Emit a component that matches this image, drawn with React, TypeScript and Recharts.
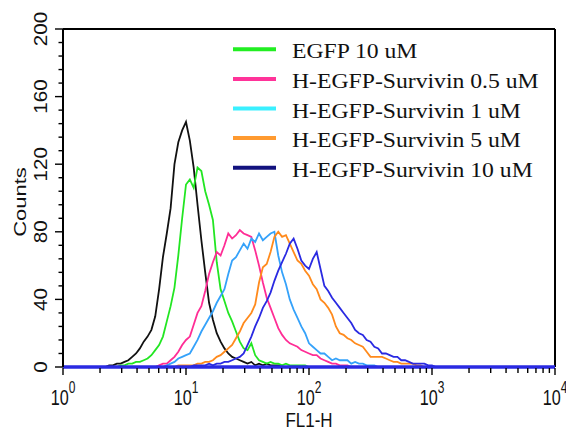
import { LineChart, Line, XAxis, YAxis, ReferenceLine } from "recharts";

// FL1-H histogram, 32 channels per decade over 10^0..10^4
const CHANNELS_PER_DECADE = 32;
const CHANNEL_COUNT = 129;

// counts per channel, starting at the given channel index (zero elsewhere)
const controlStart = 12;
const controlCounts = [1, 1, 2, 2, 3, 4, 6, 8, 11, 15, 18, 22, 30, 46, 65, 79, 94, 120, 133, 140, 145, 134, 118, 96, 75, 56, 38, 28, 20, 15, 11, 8, 6, 5, 4, 3, 2, 3, 1, 2, 1, 2, 1, 1, 1];

const egfpStart = 15;
const egfpCounts = [1, 1, 2, 2, 3, 3, 4, 5, 7, 10, 13, 18, 27, 36, 47, 66, 88, 108, 111, 106, 118, 116, 104, 96, 87, 62, 46, 39, 32, 27, 21, 15, 11, 10, 14, 7, 4, 3, 2, 3, 2, 2, 1, 2, 1, 1, 1, 1, 1];

const surv05Start = 25;
const surv05Counts = [1, 2, 2, 4, 6, 9, 13, 16, 18, 25, 32, 36, 45, 55, 62, 68, 66, 72, 79, 76, 78, 81, 79, 78, 77, 69, 60, 50, 41, 35, 29, 23, 19, 16, 14, 13, 12, 10, 9, 8, 7, 7, 5, 4, 3, 2, 2, 1, 1, 1];

const surv1Start = 27;
const surv1Counts = [1, 2, 3, 5, 6, 7, 8, 12, 16, 21, 25, 29, 33, 38, 42, 46, 55, 63, 65, 69, 73, 70, 76, 74, 79, 75, 77, 79, 80, 66, 56, 49, 40, 34, 29, 24, 20, 14, 12, 10, 8, 8, 6, 4, 5, 4, 4, 4, 2, 3, 2, 2, 1, 1, 1];

const surv5Start = 30;
const surv5Counts = [1, 1, 1, 1, 1, 2, 2, 3, 3, 4, 6, 7, 9, 11, 13, 17, 21, 26, 29, 32, 37, 50, 59, 61, 68, 77, 80, 77, 78, 73, 68, 63, 61, 57, 54, 49, 46, 40, 38, 35, 31, 24, 20, 19, 17, 16, 14, 13, 12, 9, 6, 6, 6, 6, 5, 4, 3, 3, 2, 2, 2, 2, 1, 1];

const surv10Start = 34;
const surv10Counts = [1, 1, 1, 1, 2, 1, 2, 2, 3, 3, 4, 5, 6, 8, 13, 18, 24, 29, 35, 39, 44, 51, 57, 62, 67, 73, 76, 70, 63, 60, 58, 64, 68, 58, 48, 45, 41, 38, 35, 32, 29, 26, 22, 20, 19, 16, 15, 12, 11, 8, 8, 7, 6, 6, 4, 4, 3, 2, 2, 2, 2, 1, 1];

const legendLabels = [
  "EGFP 10 uM",
  "H-EGFP-Survivin 0.5 uM",
  "H-EGFP-Survivin 1 uM",
  "H-EGFP-Survivin 5 uM",
  "H-EGFP-Survivin 10 uM",
];

const xTicks = [1, 2, 3, 4, 5, 6, 7, 8, 9, 10, 20, 30, 40, 50, 60, 70, 80, 90, 100, 200, 300, 400, 500, 600, 700, 800, 900, 1000, 2000, 3000, 4000, 5000, 6000, 7000, 8000, 9000, 10000];
const xLabels: Record<number, string> = { 1: "0", 10: "1", 100: "2", 1000: "3", 10000: "4" };
const yTicks = [0, 8, 16, 24, 32, 40, 48, 56, 64, 72, 80, 88, 96, 104, 112, 120, 128, 136, 144, 152, 160, 168, 176, 184, 192, 200];
const yLabels = [0, 40, 80, 120, 160, 200];

const SERIES = [
  { key: "control", start: controlStart, counts: controlCounts, stroke: "#111111" },
  { key: "egfp", start: egfpStart, counts: egfpCounts, stroke: "#22e622" },
  { key: "s05", start: surv05Start, counts: surv05Counts, stroke: "#ff2d95" },
  { key: "s1", start: surv1Start, counts: surv1Counts, stroke: "#35a2fa" },
  { key: "s5", start: surv5Start, counts: surv5Counts, stroke: "#ff8a1c" },
  { key: "s10", start: surv10Start, counts: surv10Counts, stroke: "#2a2ae2" },
];

const LEGEND_COLORS = ["#22ee22", "#ff3399", "#3af0ff", "#ff9a30", "#12127e"];

const rows = Array.from({ length: CHANNEL_COUNT }, (_, k) => {
  const row: Record<string, number> = { x: Math.pow(10, k / CHANNELS_PER_DECADE) };
  for (const s of SERIES) {
    const i = k - s.start;
    row[s.key] = i >= 0 && i < s.counts.length ? s.counts[i] : 0;
  }
  return row;
});

const SANS = "'Liberation Sans', Arial, sans-serif";
const SERIF = "'Liberation Serif', 'Times New Roman', serif";

function XTick(props: any) {
  const { x, y, payload } = props;
  const exp = xLabels[payload.value];
  const major = exp !== undefined;
  return (
    <g>
      <line x1={x} y1={y + 1} x2={x} y2={y + (major ? 8 : 6)} stroke="#000" strokeWidth={1.4} />
      {major && (
        <text
          transform={`translate(${x},${y + 37.5}) scale(1,1.32)`}
          textAnchor="middle"
          fontFamily={SANS}
          fontSize={16.2}
          fill="#111"
        >
          10
          <tspan fontSize={12} dy={-8.5}>
            {exp}
          </tspan>
        </text>
      )}
    </g>
  );
}

function YTick(props: any) {
  const { x, y, payload } = props;
  const major = yLabels.includes(payload.value);
  return (
    <g>
      <line x1={x} y1={y} x2={x - (major ? 8 : 4.5)} y2={y} stroke="#000" strokeWidth={1.4} />
      {major && (
        <text
          transform={`translate(${x - 16.5},${y}) scale(1,1.18) rotate(-90)`}
          textAnchor="middle"
          fontFamily={SANS}
          fontSize={17.5}
          fill="#111"
        >
          {payload.value}
        </text>
      )}
    </g>
  );
}

export default function App() {
  return (
    <div style={{ position: "absolute", left: 0, top: 0, width: 566, height: 432, background: "#fff" }}>
      <LineChart width={566} height={432} data={rows} margin={{ top: 29, right: 11, bottom: 0, left: 0 }}>
        <XAxis
          dataKey="x"
          type="number"
          scale="log"
          domain={[1, 10000]}
          ticks={xTicks}
          interval={0}
          tickSize={0}
          tickMargin={0}
          tickLine={false}
          tick={XTick}
          height={65}
          axisLine={{ stroke: "#2a2ae2", strokeWidth: 3.5 }}
        />
        <YAxis
          type="number"
          domain={[0, 200]}
          ticks={yTicks}
          interval={0}
          tickSize={0}
          tickMargin={0}
          tickLine={false}
          tick={YTick}
          width={63}
          axisLine={{ stroke: "#000", strokeWidth: 2 }}
        />
        <ReferenceLine y={200} stroke="#000" strokeWidth={2} />
        <ReferenceLine x={10000} stroke="#000" strokeWidth={2} />
        {SERIES.map((s) => (
          <Line
            key={s.key}
            dataKey={s.key}
            type="linear"
            stroke={s.stroke}
            strokeWidth={1.8}
            dot={false}
            activeDot={false}
            isAnimationActive={false}
          />
        ))}
      </LineChart>
      <svg
        width={566}
        height={432}
        style={{ position: "absolute", left: 0, top: 0, pointerEvents: "none" }}
      >
        <text
          transform="translate(25.5,202) scale(1,1.31) rotate(-90)"
          textAnchor="middle"
          fontFamily={SANS}
          fontSize={16.8}
          fill="#111"
        >
          Counts
        </text>
        <text
          transform="translate(309,427) scale(1,1.15)"
          textAnchor="middle"
          fontFamily={SANS}
          fontSize={17}
          fill="#111"
        >
          FL1-H
        </text>
        {legendLabels.map((label, i) => {
          const base = 58.3 + 29.6 * i;
          return (
            <g key={label}>
              <line x1={233} x2={276} y1={base - 9} y2={base - 9} stroke={LEGEND_COLORS[i]} strokeWidth={4} />
              <text
                transform={`translate(292,${base}) scale(1.185,1)`}
                fontFamily={SERIF}
                fontSize={20}
                fill="#111"
              >
                {label}
              </text>
            </g>
          );
        })}
      </svg>
    </div>
  );
}
